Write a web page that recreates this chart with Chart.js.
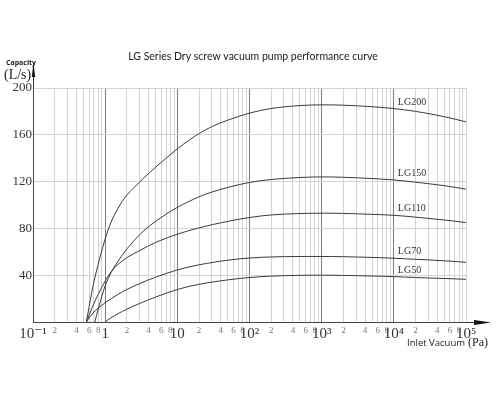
<!DOCTYPE html>
<html><head><meta charset="utf-8">
<script src="https://cdn.jsdelivr.net/npm/chart.js@4/dist/chart.umd.min.js"></script>
<style>html,body{margin:0;padding:0;background:#fff}</style>
</head><body>
<canvas id="c" width="500" height="400"></canvas>
<script>
// ---- data (inlet vacuum in Pa, capacity in L/s) ----
const seriesNames = ['LG200', 'LG150', 'LG110', 'LG70', 'LG50'];
const lg200P = [0.55, 0.65, 0.74, 0.85, 1, 1.2, 1.5, 2, 3, 4, 6, 10, 15, 20, 30, 50, 100, 200, 500, 1000, 2000, 5000, 10000, 20000, 50000, 100000];
const lg200Q = [0, 25, 41, 55.5, 71, 85, 97, 108.5, 119.5, 127, 136.5, 148, 156, 161, 167, 172.5, 178.5, 182.5, 185, 185.6, 185.3, 184, 182.4, 180, 175.5, 171];
const lg150P = [0.72, 0.8, 0.9, 1, 1.2, 1.4, 2, 3, 4, 6, 10, 20, 30, 50, 100, 200, 500, 1000, 2000, 5000, 10000, 20000, 50000, 100000];
const lg150Q = [0, 11, 22, 31, 42, 49, 62.5, 74.5, 81.5, 89.5, 98, 107, 111, 115, 119.3, 121.8, 123.5, 124, 123.7, 122.6, 121.4, 119.5, 116.5, 113.6];
const lg110P = [0.55, 0.6, 0.7, 0.8, 1, 1.2, 1.4, 2, 3, 5, 10, 20, 50, 100, 200, 500, 1000, 2000, 5000, 10000, 20000, 50000, 100000];
const lg110Q = [0, 6, 16, 23.5, 35, 42.5, 47.5, 55, 61, 68, 75, 80.5, 86, 89.3, 91.5, 92.7, 93, 92.8, 92, 91.2, 89.6, 87.2, 85];
const lg70P  = [0.55, 0.6, 0.7, 0.8, 1, 1.5, 2, 3, 5, 10, 20, 50, 100, 200, 500, 1000, 2000, 5000, 10000, 20000, 50000, 100000];
const lg70Q  = [0, 3.5, 8.5, 11.8, 16.5, 23.5, 27.8, 32.8, 38.3, 44.5, 48.9, 52.8, 54.7, 55.6, 56, 56, 55.8, 55.2, 54.5, 53.6, 52.3, 51];
const lg50P  = [1, 1.2, 1.5, 2, 3, 5, 10, 20, 50, 100, 200, 500, 1000, 2000, 5000, 10000, 20000, 50000, 100000];
const lg50Q  = [0, 3.5, 7, 11, 15.8, 21.3, 27.8, 32.2, 36, 38, 39.2, 39.9, 40, 39.8, 39.3, 38.8, 38, 37.2, 36.5];
const yTickValues = [40, 80, 120, 160, 200];
const majorLabels = {'-1': '10⁻¹', '0': '1', '1': '10', '2': '10²', '3': '10³', '4': '10⁴', '5': '10⁵'};
const minorLabelled = [2, 4, 6, 8];
const titleText = 'LG Series Dry screw vacuum pump performance curve';
const labelAtP = 10000;

const seriesP = [lg200P, lg150P, lg110P, lg70P, lg50P];
const seriesQ = [lg200Q, lg150Q, lg110Q, lg70Q, lg50Q];

const serif = "'Liberation Serif', 'DejaVu Serif', serif";
const sans = "'Open Sans', 'Noto Sans', sans-serif";

function decomp(v) {
  const e = Math.floor(Math.log10(v) + 1e-9);
  const m = Math.round(v / Math.pow(10, e));
  return {e, m};
}

const datasets = seriesNames.map((n, i) => ({
  label: n,
  data: seriesP[i].map((p, k) => ({x: p, y: seriesQ[i][k]})),
  borderColor: '#3a3a3a',
  borderWidth: 1,
  pointRadius: 0,
  fill: false,
  tension: 0.35
}));

const extras = {
  id: 'extras',
  afterDraw(chart) {
    const ctx = chart.ctx;
    const xs = chart.scales.x, ys = chart.scales.y;
    const ca = chart.chartArea;
    ctx.save();
    // title
    ctx.fillStyle = '#222';
    ctx.font = "10.5px Lato, 'Open Sans', sans-serif";
    ctx.textAlign = 'center';
    ctx.textBaseline = 'middle';
    ctx.fillText(titleText, 253, 57);
    // y axis extension + arrow
    ctx.strokeStyle = '#333';
    ctx.lineWidth = 1;
    ctx.beginPath();
    ctx.moveTo(ca.left + 0.5, ca.top);
    ctx.lineTo(ca.left + 0.5, 70);
    ctx.stroke();
    ctx.fillStyle = '#111';
    ctx.beginPath();
    ctx.moveTo(ca.left + 0.5, 63);
    ctx.lineTo(ca.left + 2.2, 77);
    ctx.lineTo(ca.left - 1.2, 77);
    ctx.closePath();
    ctx.fill();
    // x axis extension + arrow
    ctx.beginPath();
    ctx.moveTo(ca.right, ca.bottom + 0.5);
    ctx.lineTo(478, ca.bottom + 0.5);
    ctx.stroke();
    ctx.beginPath();
    ctx.moveTo(491, ca.bottom + 0.5);
    ctx.lineTo(474, ca.bottom - 2);
    ctx.lineTo(474, ca.bottom + 3);
    ctx.closePath();
    ctx.fill();
    // y axis title
    ctx.fillStyle = '#222';
    ctx.textAlign = 'left';
    ctx.font = 'bold 7px ' + sans;
    ctx.fillText('Capacity', 6, 63);
    ctx.font = '14px ' + serif;
    ctx.fillText('(L/s)', 4, 75);
    // x axis title
    ctx.font = '9.5px ' + sans;
    ctx.fillText('Inlet Vacuum', 407, 343);
    const w = ctx.measureText('Inlet Vacuum').width;
    ctx.font = '12px ' + serif;
    ctx.fillText('(Pa)', 407 + w + 3, 343);
    // curve labels
    ctx.font = '10px ' + serif;
    ctx.fillStyle = '#333';
    seriesNames.forEach((n, i) => {
      const k = seriesP[i].indexOf(labelAtP);
      const px = xs.getPixelForValue(labelAtP) + 4;
      const py = ys.getPixelForValue(seriesQ[i][k]) - 6.5;
      ctx.fillText(n, px, py);
    });
    ctx.restore();
  }
};

new Chart(document.getElementById('c'), {
  type: 'line',
  data: {datasets},
  options: {
    responsive: false,
    animation: false,
    layout: {padding: {top: 88, right: 34, left: 0, bottom: 0}},
    plugins: {legend: {display: false}, tooltip: {enabled: false}, title: {display: false}},
    scales: {
      x: {
        type: 'logarithmic',
        min: 0.1, max: 100000,
        afterFit(s) { s.height = 78; },
        afterBuildTicks(s) {
          const t = [];
          for (let e = -1; e <= 4; e++) {
            for (let m = 1; m <= 9; m++) t.push({value: Number((m * Math.pow(10, e)).toPrecision(6))});
          }
          t.push({value: 100000});
          s.ticks = t;
        },
        grid: {
          drawTicks: false,
          color(c) {
            const v = c.tick ? c.tick.value : 1;
            const d = decomp(v);
            if (d.m === 1 && d.e > -1 && d.e < 5) return '#7a7a7a';
            return '#d4d4d4';
          }
        },
        border: {color: '#444'},
        ticks: {
          autoSkip: false, maxRotation: 0, minRotation: 0, padding: 3,
          callback(v) {
            const d = decomp(v);
            if (d.m === 1) return majorLabels[String(d.e)] || '';
            return minorLabelled.includes(d.m) ? String(d.m) : '';
          },
          font(c) {
            const v = c.tick ? c.tick.value : 1;
            return decomp(v).m === 1 ? {family: serif, size: 15} : {family: serif, size: 9};
          },
          color(c) {
            const v = c.tick ? c.tick.value : 1;
            return decomp(v).m === 1 ? '#333' : '#777';
          }
        }
      },
      y: {
        min: 0, max: 200,
        afterFit(s) { s.width = 33; },
        afterBuildTicks(s) { s.ticks = [{value: 0}].concat(yTickValues.map(v => ({value: v}))); },
        grid: {drawTicks: false, color: '#d4d4d4'},
        border: {color: '#444'},
        ticks: {
          padding: 1,
          callback(v) { return v === 0 ? '' : String(v); },
          font: {family: serif, size: 13},
          color: '#333'
        }
      }
    }
  },
  plugins: [extras]
});
</script>
</body></html>
